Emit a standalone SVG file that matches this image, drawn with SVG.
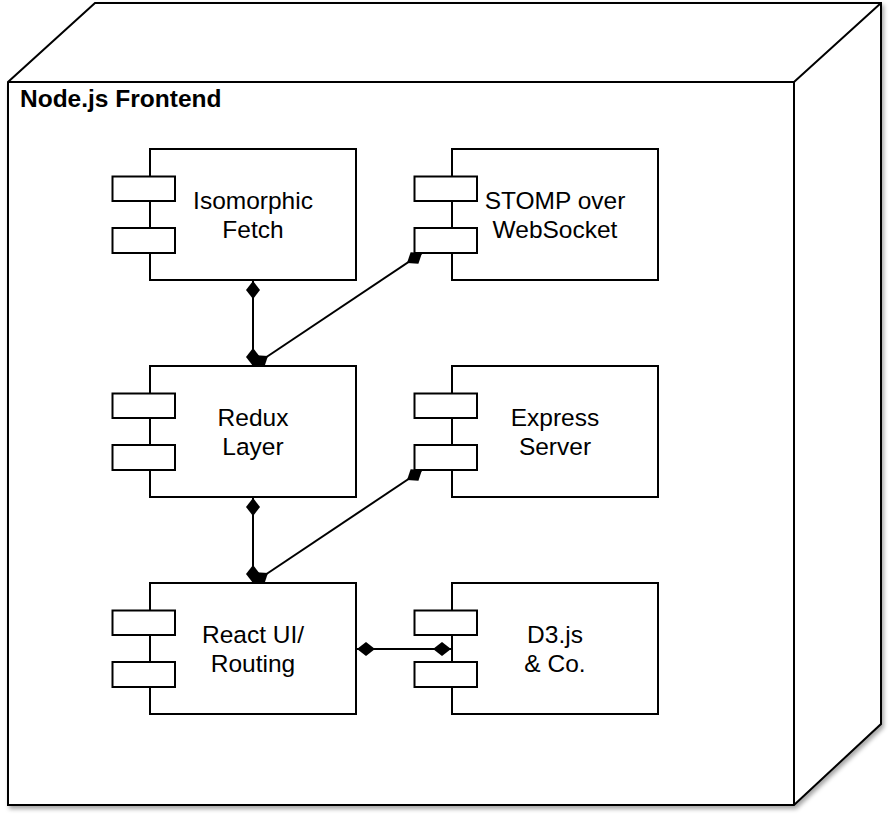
<svg xmlns="http://www.w3.org/2000/svg" width="889" height="818" viewBox="0 0 889 818">
<style>
.frame{fill:#fff;stroke:#000;stroke-width:2;stroke-linejoin:miter}
.edge{fill:none;stroke:#000;stroke-width:2}
.box{fill:#fff;stroke:#000;stroke-width:2}
.lbl{font-family:"Liberation Sans",Arial,Helvetica,sans-serif;font-size:24.5px;fill:#000;text-anchor:middle}
.title{font-family:"Liberation Sans",Arial,Helvetica,sans-serif;font-size:24.5px;font-weight:bold;fill:#000}
.conn{fill:none;stroke:#000;stroke-width:2}
</style>
<defs>
<filter id="sh" x="-5%" y="-5%" width="110%" height="110%">
<feDropShadow dx="2" dy="3" stdDeviation="2" flood-color="#000" flood-opacity="0.35"/>
</filter>
<marker id="dia" viewBox="-19 -8 20 16" markerWidth="20" markerHeight="16" refX="0" refY="0" orient="auto-start-reverse" markerUnits="userSpaceOnUse">
<path d="M0,0 L-9,-7 L-18,0 L-9,7 Z" fill="#000" stroke="none"/>
</marker>
</defs>
<g id="node-frontend">
<path class="frame" filter="url(#sh)" d="M8,82 L95,3 L881,3 L881,724 L794,805 L8,805 Z"/>
<path class="edge" d="M8,82 L794,82 L881,3 M794,82 L794,805"/>
<text class="title" x="20" y="107">Node.js Frontend</text>
</g>
<g id="isomorphic-fetch">
<rect class="box" x="150" y="149" width="206" height="131"/>
<rect class="box" x="112.5" y="176.5" width="62.5" height="24.5"/>
<rect class="box" x="112.5" y="228" width="62.5" height="25"/>
<text class="lbl" x="253" y="209">Isomorphic</text>
<text class="lbl" x="253" y="238">Fetch</text>
</g>
<g id="stomp-websocket">
<rect class="box" x="452" y="149" width="206" height="131"/>
<rect class="box" x="414.5" y="176.5" width="62.5" height="24.5"/>
<rect class="box" x="414.5" y="228" width="62.5" height="25"/>
<text class="lbl" x="555" y="209">STOMP over</text>
<text class="lbl" x="555" y="238">WebSocket</text>
</g>
<g id="redux-layer">
<rect class="box" x="150" y="366" width="206" height="131"/>
<rect class="box" x="112.5" y="393.5" width="62.5" height="24.5"/>
<rect class="box" x="112.5" y="445" width="62.5" height="25"/>
<text class="lbl" x="253" y="426">Redux</text>
<text class="lbl" x="253" y="455">Layer</text>
</g>
<g id="express-server">
<rect class="box" x="452" y="366" width="206" height="131"/>
<rect class="box" x="414.5" y="393.5" width="62.5" height="24.5"/>
<rect class="box" x="414.5" y="445" width="62.5" height="25"/>
<text class="lbl" x="555" y="426">Express</text>
<text class="lbl" x="555" y="455">Server</text>
</g>
<g id="react-ui">
<rect class="box" x="150" y="583" width="206" height="131"/>
<rect class="box" x="112.5" y="610.5" width="62.5" height="24.5"/>
<rect class="box" x="112.5" y="662" width="62.5" height="25"/>
<text class="lbl" x="253" y="643">React UI/</text>
<text class="lbl" x="253" y="672">Routing</text>
</g>
<g id="d3js">
<rect class="box" x="452" y="583" width="206" height="131"/>
<rect class="box" x="414.5" y="610.5" width="62.5" height="24.5"/>
<rect class="box" x="414.5" y="662" width="62.5" height="25"/>
<text class="lbl" x="555" y="643">D3.js</text>
<text class="lbl" x="555" y="672">&amp; Co.</text>
</g>
<g id="connectors">
<path class="conn" d="M253,281 L253,366" marker-start="url(#dia)" marker-end="url(#dia)"/>
<path class="conn" d="M422,253 L253,366" marker-start="url(#dia)" marker-end="url(#dia)"/>
<path class="conn" d="M253,498 L253,583" marker-start="url(#dia)" marker-end="url(#dia)"/>
<path class="conn" d="M422,470 L253,583" marker-start="url(#dia)" marker-end="url(#dia)"/>
<path class="conn" d="M357,649 L451,649" marker-start="url(#dia)" marker-end="url(#dia)"/>
</g>
</svg>
